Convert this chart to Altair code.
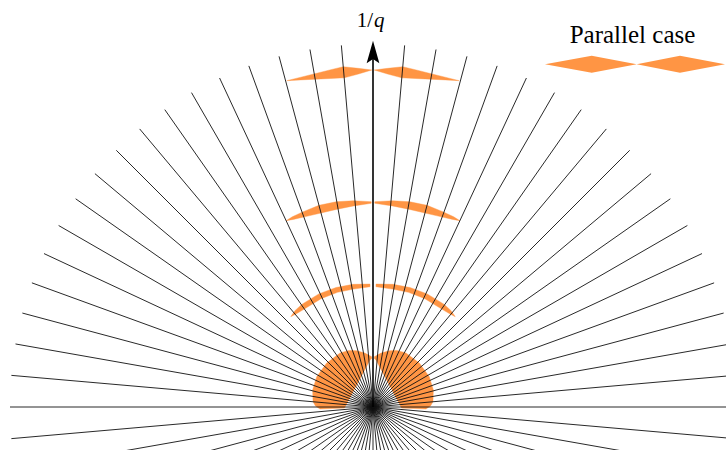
import altair as alt
import pandas as pd

# ---- layout -------------------------------------------------------------
W, H = 726, 450                 # view size in pixels
UNIT = 36.3                     # pixels per unit of 1/q
ORIGIN_X, ORIGIN_Y = 373, 407   # where 1/q = 0 sits in the view

ORANGE = "#ff9544"
SERIF = "Liberation Serif"

# ---- data ---------------------------------------------------------------
# radial grid: one ray every 5 degrees, all of the same length
RAY_LENGTH = 10.0
ray_angles = list(range(0, 360, 5))

# Orange regions (left half; the right half is the mirror image).
# Angles in degrees from the +x axis, radii in units of 1/q.

# near-origin lobe
lobe_outer_angle = [91.5, 98.5, 106.1, 113.0, 121.4, 136.5, 151.7, 164.3, 175.0, 179.0, 182.2]
lobe_outer_r     = [1.386, 1.501, 1.614, 1.694, 1.744, 1.760, 1.760, 1.727, 1.658, 1.584, 1.460]
lobe_inner_angle = [91.5, 93.7, 100.0, 110.0, 120.0, 135.0, 150.0, 165.0, 180.0, 182.2]
lobe_inner_r     = [1.336, 1.298, 1.107, 0.917, 0.802, 0.713, 0.680, 0.700, 0.771, 0.785]

# first crescent
arc1_angle   = [91.4, 99.3, 107.2, 115.6, 124.8, 129.0, 132.3]
arc1_outer_r = [3.388, 3.424, 3.446, 3.455, 3.441, 3.416, 3.366]
arc1_inner_r = [3.314, 3.292, 3.306, 3.309, 3.295, 3.320, 3.366]

# second crescent
arc2_angle   = [90.5, 95.5, 100.2, 105.0, 109.8, 113.0, 115.0]
arc2_outer_r = [5.656, 5.708, 5.744, 5.752, 5.713, 5.691, 5.664]
arc2_inner_r = [5.612, 5.565, 5.537, 5.532, 5.567, 5.614, 5.664]

# outermost spindle
arc3_angle   = [90.2, 92.5, 95.0, 97.3, 99.9, 102.5, 104.8]
arc3_outer_r = [9.284, 9.339, 9.410, 9.361, 9.320, 9.300, 9.298]
arc3_inner_r = [9.284, 9.182, 9.102, 9.124, 9.168, 9.229, 9.298]

# legend glyph: two spindles side by side
legend_x      = [4.738, 6.025, 7.264, 8.457, 9.697]
legend_top    = [9.441, 9.675, 9.441, 9.675, 9.441]
legend_bottom = [9.441, 9.207, 9.441, 9.207, 9.441]

ARROW_HEAD_R = 9.78     # centre of the arrow head on the 1/q axis
AXIS_LABEL_Y = 10.455
LEGEND_LABEL = ("Parallel case", 7.149, 10.019)

# ---- tables -------------------------------------------------------------
def outline(name, outer_a, outer_r, inner_a, inner_r):
    pts = list(zip(outer_a, outer_r)) + list(zip(inner_a, inner_r))[::-1]
    rows = []
    for side in (1, -1):
        for i, (a, r) in enumerate(pts):
            rows.append({"key": f"{name}_{side}", "side": side, "idx": i,
                         "angle": a, "r": r})
    return rows

shape_rows = []
shape_rows += outline("lobe", lobe_outer_angle, lobe_outer_r, lobe_inner_angle, lobe_inner_r)
shape_rows += outline("arc1", arc1_angle, arc1_outer_r, arc1_angle, arc1_inner_r)
shape_rows += outline("arc2", arc2_angle, arc2_outer_r, arc2_angle, arc2_inner_r)
shape_rows += outline("arc3", arc3_angle, arc3_outer_r, arc3_angle, arc3_inner_r)
shapes = pd.DataFrame(shape_rows)

rays = pd.DataFrame({"angle": ray_angles, "r": RAY_LENGTH, "x0": 0.0, "y0": 0.0})
legend = pd.DataFrame({"x": legend_x, "top": legend_top, "bottom": legend_bottom})
arrow = pd.DataFrame({"x": [0.0], "y0": [0.0], "y1": [ARROW_HEAD_R]})
axis_label = pd.DataFrame({"x": [0.0], "y": [AXIS_LABEL_Y]})
legend_label = pd.DataFrame({"text": [LEGEND_LABEL[0]], "x": [LEGEND_LABEL[1]],
                             "y": [LEGEND_LABEL[2]]})

# ---- scales (1 unit is UNIT pixels on both axes) --------------------------
XDOM = [-ORIGIN_X / UNIT, (W - ORIGIN_X) / UNIT]
YDOM = [-(H - ORIGIN_Y) / UNIT, ORIGIN_Y / UNIT]


def X(field):
    return alt.X(field, type="quantitative",
                 scale=alt.Scale(domain=XDOM, nice=False, zero=False), axis=None)


def Y(field):
    return alt.Y(field, type="quantitative",
                 scale=alt.Scale(domain=YDOM, nice=False, zero=False), axis=None)


# ---- layers ---------------------------------------------------------------
regions = alt.Chart(shapes).transform_calculate(
    px="datum.side * datum.r * cos(datum.angle * PI / 180)",
    py="datum.r * sin(datum.angle * PI / 180)",
).mark_line(
    fill=ORANGE, stroke=ORANGE, strokeWidth=0.4, interpolate="linear-closed"
).encode(
    x=X("px"), y=Y("py"), detail="key:N", order="idx:Q"
)

legend_glyph = alt.Chart(legend).mark_area(color=ORANGE, opacity=1).encode(
    x=X("x"), y=Y("top"), y2="bottom:Q"
)

ray_lines = alt.Chart(rays).transform_filter(
    "datum.angle != 90"
).transform_calculate(
    x1="datum.r * cos(datum.angle * PI / 180)",
    y1="datum.r * sin(datum.angle * PI / 180)",
).mark_rule(color="#111111", strokeWidth=0.9, clip=True).encode(
    x=X("x0"), y=Y("y0"), x2="x1:Q", y2="y1:Q"
)

shaft = alt.Chart(arrow).mark_rule(color="black", strokeWidth=1.6).encode(
    x=X("x"), y=Y("y0"), y2="y1:Q"
)

head = alt.Chart(arrow).mark_point(
    shape="M0,-1 L0.56,1 L0,0.62 L-0.56,1 Z",
    size=515, filled=True, color="black", opacity=1, strokeWidth=0,
).encode(x=X("x"), y=Y("y1"))

label_num = alt.Chart(axis_label).mark_text(
    text="1/", align="right", baseline="alphabetic", font=SERIF, fontSize=21,
    color="black", dx=0,
).encode(x=X("x"), y=Y("y"))

label_q = alt.Chart(axis_label).mark_text(
    text="q", align="left", baseline="alphabetic", font=SERIF, fontSize=21,
    fontStyle="italic", color="black", dx=1,
).encode(x=X("x"), y=Y("y"))

legend_text = alt.Chart(legend_label).mark_text(
    align="center", baseline="alphabetic", font=SERIF, fontSize=25, color="black",
).encode(x=X("x"), y=Y("y"), text="text:N")

chart = alt.layer(
    regions, legend_glyph, ray_lines, shaft, head, label_num, label_q, legend_text
).properties(
    width=W, height=H, padding=0, autosize="none", background="white"
).configure_view(stroke=None)

chart.save("out.html", embed_options={"renderer": "svg", "actions": False})
